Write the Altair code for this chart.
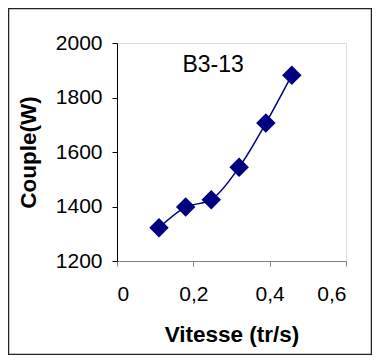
import altair as alt
import pandas as pd

# Data
vitesse = [0.11, 0.18, 0.247, 0.32, 0.39, 0.458]
couple = [1322, 1398, 1425, 1544, 1706, 1882]
x_ticks = [0, 0.2, 0.4, 0.6]
y_ticks = [1200, 1400, 1600, 1800, 2000]
annot_text = ["B3-13"]
annot_x = [0.252]
annot_y = [1918]

df = pd.DataFrame({"v": vitesse, "c": couple})
ann = pd.DataFrame({"t": annot_text, "x": annot_x, "y": annot_y})

NAVY = "#000080"
FONT = "Liberation Sans"

xscale = alt.Scale(domain=[0, 0.6], nice=False, zero=False)
yscale = alt.Scale(domain=[1200, 2000], nice=False, zero=False)

xaxis = alt.Axis(
    values=x_ticks, grid=False, title="Vitesse (tr/s)",
    labelExpr="replace(format(datum.value, '.1~f'), '.', ',')",
    labelFont=FONT, labelFontSize=21, labelColor="black",
    labelBaseline="alphabetic", labelPadding=34,
    domainColor="#808080", tickColor="#808080", tickSize=5,
    titleFont=FONT, titleFontSize=22.5, titleFontWeight="bold", titleColor="black",
    titleBaseline="alphabetic", titleY=80,
)
yaxis = alt.Axis(
    values=y_ticks, grid=False, title="Couple(W)", format="d",
    labelFont=FONT, labelFontSize=21, labelColor="black", labelPadding=10,
    domainColor="black", tickColor="black", tickSize=5,
    titleFont=FONT, titleFontSize=22.5, titleFontWeight="bold", titleColor="black",
    titleAngle=-90, titleBaseline="alphabetic", titleX=-82, titleY=109,
)

base = alt.Chart(df)
line = base.mark_line(color=NAVY, strokeWidth=1.5, interpolate="catmull-rom").encode(
    x=alt.X("v:Q", scale=xscale, axis=xaxis),
    y=alt.Y("c:Q", scale=yscale, axis=yaxis),
)
pts = base.mark_point(shape="diamond", filled=True, color=NAVY, size=380, opacity=1).encode(
    x=alt.X("v:Q", scale=xscale),
    y=alt.Y("c:Q", scale=yscale),
)
txt = alt.Chart(ann).mark_text(font=FONT, fontSize=23, color="black").encode(
    x=alt.X("x:Q", scale=xscale),
    y=alt.Y("y:Q", scale=yscale),
    text="t:N",
)
border = alt.Chart(alt.Data(values=[{}])).mark_rect(
    fill=None, stroke="#222222", strokeWidth=1.5
).encode(
    x=alt.value(-108.5), x2=alt.value(254.5),
    y=alt.value(-34.5), y2=alt.value(311.5),
)

chart = alt.layer(border, line, pts, txt).properties(
    width=229, height=218,
    autosize=alt.AutoSizeParams(type="none"),
    padding={"left": 109, "top": 35, "right": 26, "bottom": 94},
).configure_view(stroke=None).configure(background="white")

chart.save("out.html", embed_options={"renderer": "svg", "actions": False})
